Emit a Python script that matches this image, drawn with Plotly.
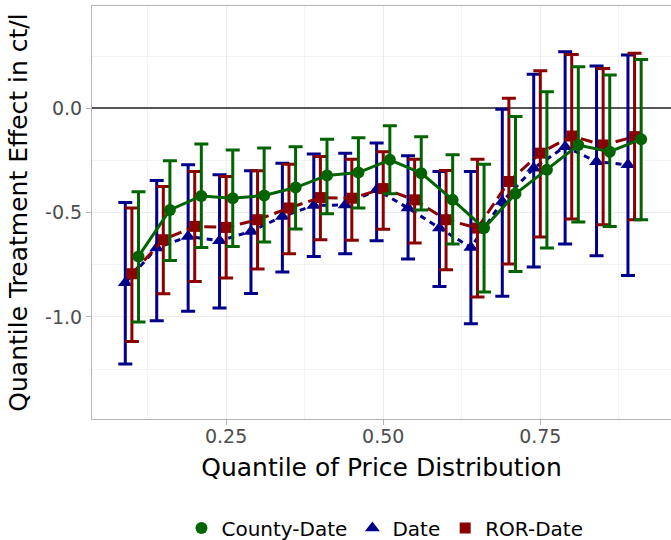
import plotly.graph_objects as go

quantiles = [0.10, 0.15, 0.20, 0.25, 0.30, 0.35, 0.40, 0.45, 0.50,
             0.55, 0.60, 0.65, 0.70, 0.75, 0.80, 0.85, 0.90]

county_est = [-0.710, -0.487, -0.420, -0.431, -0.418, -0.380, -0.322, -0.308, -0.247,
              -0.311, -0.439, -0.574, -0.410, -0.295, -0.176, -0.208, -0.148]
county_hi = [-0.400, -0.251, -0.171, -0.200, -0.191, -0.184, -0.148, -0.141, -0.084,
             -0.136, -0.223, -0.268, -0.040, 0.079, 0.199, 0.159, 0.234]
county_lo = [-1.024, -0.729, -0.667, -0.662, -0.641, -0.579, -0.506, -0.478, -0.410,
             -0.487, -0.651, -0.880, -0.782, -0.670, -0.545, -0.567, -0.534]

date_est = [-0.836, -0.670, -0.614, -0.635, -0.590, -0.519, -0.466, -0.463, -0.391,
            -0.478, -0.574, -0.667, -0.447, -0.287, -0.184, -0.256, -0.271]
date_hi = [-0.452, -0.346, -0.271, -0.319, -0.300, -0.263, -0.219, -0.215, -0.167,
           -0.228, -0.303, -0.303, -0.005, 0.163, 0.271, 0.202, 0.255]
date_lo = [-1.225, -1.018, -0.973, -0.957, -0.888, -0.785, -0.710, -0.697, -0.635,
           -0.722, -0.854, -1.032, -0.901, -0.761, -0.651, -0.707, -0.801]

ror_est = [-0.793, -0.630, -0.566, -0.571, -0.534, -0.478, -0.428, -0.431, -0.385,
           -0.439, -0.534, -0.574, -0.351, -0.215, -0.133, -0.176, -0.136]
ror_hi = [-0.478, -0.375, -0.303, -0.327, -0.300, -0.268, -0.231, -0.244, -0.208,
          -0.244, -0.298, -0.244, 0.048, 0.180, 0.258, 0.191, 0.263]
ror_lo = [-1.118, -0.889, -0.830, -0.813, -0.770, -0.697, -0.630, -0.633, -0.580,
          -0.646, -0.774, -0.904, -0.746, -0.617, -0.531, -0.558, -0.534]

series_names = ["County-Date", "Date", "ROR-Date"]
x_ticks = [0.25, 0.50, 0.75]
x_ticklabels = ["0.25", "0.50", "0.75"]
y_ticks = [-1.0, -0.5, 0.0]
y_ticklabels = ["-1.0", "-0.5", "0.0"]

FONT = "DejaVu Sans"
DODGE = 0.0105

styles = {
    "County-Date": dict(color="#006400", symbol="circle", size=12, dash="solid", off=DODGE),
    "Date": dict(color="#00008B", symbol="triangle-up", size=13, dash="6px,5px", off=-DODGE),
    "ROR-Date": dict(color="#8B0000", symbol="square", size=11, dash="12px,6px", off=0.0),
}
data = {
    "County-Date": (county_est, county_hi, county_lo),
    "Date": (date_est, date_hi, date_lo),
    "ROR-Date": (ror_est, ror_hi, ror_lo),
}

fig = go.Figure()
for name in ["Date", "ROR-Date", "County-Date"]:
    est, hi, lo = data[name]
    st = styles[name]
    xs = [q + st["off"] for q in quantiles]
    fig.add_trace(go.Scatter(
        x=xs, y=est, mode="lines+markers", name=name, showlegend=False,
        line=dict(color=st["color"], width=3, dash=st["dash"]),
        marker=dict(color=st["color"], symbol=st["symbol"], size=st["size"]),
        error_y=dict(type="data", symmetric=False,
                     array=[h - e for h, e in zip(hi, est)],
                     arrayminus=[e - l for e, l in zip(est, lo)],
                     color=st["color"], thickness=3, width=7),
    ))

for name in series_names:
    st = styles[name]
    fig.add_trace(go.Scatter(
        x=[None], y=[None], mode="markers", name=name,
        marker=dict(color=st["color"], symbol=st["symbol"], size=st["size"]),
    ))

axis_common = dict(
    showgrid=True, gridcolor="#EBEBEB", gridwidth=1,
    ticks="outside", ticklen=5, tickcolor="#B3B3B3", tickwidth=1,
    showline=True, linecolor="#B3B3B3", linewidth=1,
    tickfont=dict(family=FONT, size=19, color="#4D4D4D"),
)

fig.update_layout(
    width=671, height=540,
    margin=dict(l=92, r=0, t=6, b=121, autoexpand=False),
    paper_bgcolor="white", plot_bgcolor="white",
    font=dict(family=FONT),
    xaxis=dict(
        range=[0.0365, 0.958], tickmode="array", tickvals=x_ticks, ticktext=x_ticklabels,
        zeroline=False, mirror=True, ticklabelstandoff=-5,
        minor=dict(tickmode="array", tickvals=[0.125, 0.375, 0.625, 0.875],
                   showgrid=True, gridcolor="#F3F3F3", gridwidth=1, ticks=""),
        title=dict(text="Quantile of Price Distribution",
                   font=dict(family=FONT, size=25, color="black"), standoff=12),
        **axis_common,
    ),
    yaxis=dict(
        range=[-1.489, 0.490], tickmode="array", tickvals=y_ticks, ticktext=y_ticklabels,
        zeroline=True, zerolinecolor="#555555", zerolinewidth=1.5,
        minor=dict(tickmode="array", tickvals=[-1.25, -0.75, -0.25, 0.25],
                   showgrid=True, gridcolor="#F3F3F3", gridwidth=1, ticks=""),
        title=dict(text="Quantile Treatment Effect in ct/l",
                   font=dict(family=FONT, size=25, color="black"), standoff=10),
        **axis_common,
    ),
    legend=dict(orientation="h", x=0.506, xanchor="center", y=-0.264, yanchor="middle",
                font=dict(family=FONT, size=20, color="black"), bgcolor="rgba(0,0,0,0)"),
)

fig.write_html("out.html")
